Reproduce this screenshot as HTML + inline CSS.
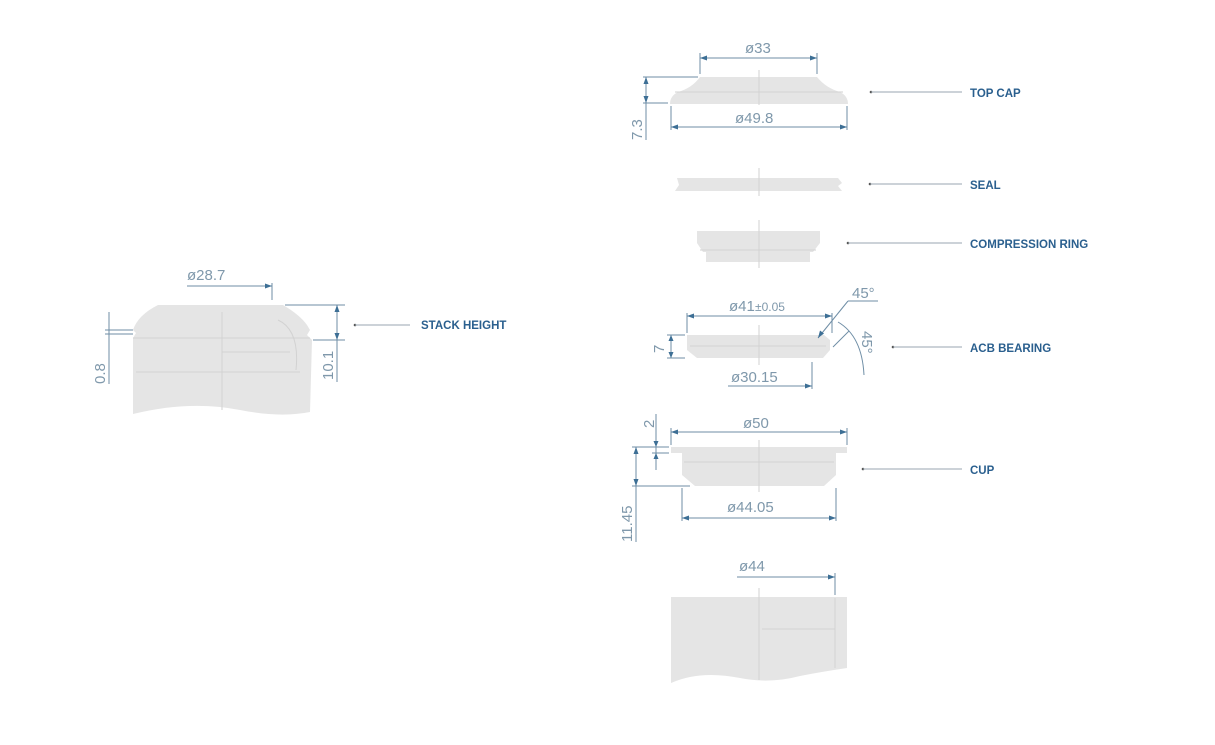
<!DOCTYPE html>
<html><head><meta charset="utf-8"><style>
html,body{margin:0;padding:0;background:#fff;}
svg{display:block;}
.s{fill:#e5e5e5;}
.d{stroke:#6f8ea6;stroke-width:1;fill:none;}
.c{stroke:#d2d2d2;stroke-width:1;fill:none;}
.t{font-family:"Liberation Sans",sans-serif;font-size:15px;fill:#7f98ab;}
.l{font-family:"Liberation Sans",sans-serif;font-size:11.5px;font-weight:bold;fill:#2a5f8e;}
.ld{stroke:#9aa6b0;stroke-width:1;}
.a{fill:#3d6f95;}
</style></head><body>
<svg width="1215" height="745" viewBox="0 0 1215 745" xmlns="http://www.w3.org/2000/svg">
<!-- STACK HEIGHT -->
<path class="s" d="M158,305 L283,305 Q300,315 307,325 L310,330 L307,335 L312,340 L310,412 Q280,418 240,410 Q190,400 133,414 L133,338 L136,333 L133,330 Q138,315 158,305Z"/>
<path class="c" d="M133,338 H310 M136,372 H300 M222,312 V410 M222,352 H290 M278,320 Q300,330 296,370"/>
<line class="d" x1="187" y1="286" x2="272" y2="286"/><line class="d" x1="272" y1="283" x2="272" y2="300"/>
<path class="a" d="M272,286 l-7,-2.5 v5z"/>
<text class="t" x="187" y="280">ø28.7</text>
<line class="d" x1="285" y1="305" x2="345" y2="305"/><line class="d" x1="313" y1="340" x2="345" y2="340"/>
<line class="d" x1="337" y1="305" x2="337" y2="382"/>
<path class="a" d="M337,305 l-2.5,7 h5z M337,340 l-2.5,-7 h5z"/>
<text class="t" transform="translate(333,380) rotate(-90)">10.1</text>
<line class="d" x1="109" y1="312" x2="109" y2="384"/><line class="d" x1="105" y1="330" x2="133" y2="330"/><line class="d" x1="105" y1="334" x2="133" y2="334"/>
<text class="t" transform="translate(105,384) rotate(-90)">0.8</text>
<circle cx="355" cy="325" r="1.3" fill="#555"/><line class="ld" x1="355" y1="325" x2="410" y2="325"/>
<text class="l" x="421" y="329">STACK HEIGHT</text>

<!-- TOP CAP -->
<path class="s" d="M700,77 L817,77 Q826,88 840,92 Q848,96 848,104 L670,104 Q670,96 678,92 Q692,88 700,77Z"/>
<path class="c" d="M759,70 V105 M675,92 H843"/>
<line class="d" x1="700" y1="58" x2="817" y2="58"/><line class="d" x1="700" y1="53" x2="700" y2="74"/><line class="d" x1="817" y1="53" x2="817" y2="74"/>
<path class="a" d="M700,58 l7,-2.5 v5z M817,58 l-7,-2.5 v5z"/>
<text class="t" x="745" y="53">ø33</text>
<line class="d" x1="671" y1="127" x2="847" y2="127"/><line class="d" x1="671" y1="106" x2="671" y2="130"/><line class="d" x1="847" y1="106" x2="847" y2="130"/>
<path class="a" d="M671,127 l7,-2.5 v5z M847,127 l-7,-2.5 v5z"/>
<text class="t" x="735" y="123">ø49.8</text>
<line class="d" x1="643" y1="77" x2="698" y2="77"/><line class="d" x1="643" y1="103" x2="668" y2="103"/>
<line class="d" x1="646" y1="77" x2="646" y2="140"/>
<path class="a" d="M646,77 l-2.5,7 h5z M646,103 l-2.5,-7 h5z"/>
<text class="t" transform="translate(642,140) rotate(-90)">7.3</text>
<circle cx="871" cy="92" r="1.3" fill="#555"/><line class="ld" x1="871" y1="92" x2="962" y2="92"/>
<text class="l" x="970" y="97">TOP CAP</text>

<!-- SEAL -->
<path class="s" d="M677,178 L838,178 L842,183 L838,186 L842,191 L675,191 L679,185Z"/>
<path class="c" d="M759,168 V196"/>
<circle cx="870" cy="184" r="1.3" fill="#555"/><line class="ld" x1="870" y1="184" x2="962" y2="184"/>
<text class="l" x="970" y="189">SEAL</text>

<!-- COMPRESSION RING -->
<path class="s" d="M697,231 H820 V243 L813,252 H810 V262 H706 V252 H703 L697,243Z"/>
<path class="c" d="M759,220 V268 M700,250 H816"/>
<circle cx="848" cy="243" r="1.3" fill="#555"/><line class="ld" x1="848" y1="243" x2="962" y2="243"/>
<text class="l" x="970" y="248">COMPRESSION RING</text>

<!-- ACB -->
<path class="s" d="M687,335 H824 L830,340 V350 L823,358 H697 L687,350Z"/>
<path class="c" d="M759,325 V365 M690,346 H826"/>
<line class="d" x1="687" y1="316" x2="832" y2="316"/><line class="d" x1="687" y1="313" x2="687" y2="333"/><line class="d" x1="832" y1="313" x2="832" y2="333"/>
<path class="a" d="M687,316 l7,-2.5 v5z M832,316 l-7,-2.5 v5z"/>
<text class="t" x="729" y="311">ø41</text><text class="t" x="755" y="311" style="font-size:12px">±0.05</text>
<line class="d" x1="848" y1="301" x2="878" y2="301"/><line class="d" x1="848" y1="301" x2="818" y2="338"/>
<path class="a" d="M818,338 l2,-7.5 l4,3z"/>
<text class="t" x="852" y="298">45°</text>
<path class="d" d="M838,322 Q862,336 864,375"/><line class="d" x1="833" y1="347" x2="849" y2="331"/>
<text class="t" transform="translate(862,331) rotate(90)">45°</text>
<line class="d" x1="667" y1="335" x2="685" y2="335"/><line class="d" x1="667" y1="358" x2="685" y2="358"/>
<line class="d" x1="671" y1="335" x2="671" y2="358"/>
<path class="a" d="M671,335 l-2.5,6 h5z M671,358 l-2.5,-6 h5z"/>
<text class="t" transform="translate(664,353) rotate(-90)">7</text>
<line class="d" x1="728" y1="386" x2="812" y2="386"/><line class="d" x1="812" y1="362" x2="812" y2="389"/>
<path class="a" d="M812,386 l-7,-2.5 v5z"/>
<text class="t" x="731" y="382">ø30.15</text>
<circle cx="893" cy="347" r="1.3" fill="#555"/><line class="ld" x1="893" y1="347" x2="962" y2="347"/>
<text class="l" x="970" y="352">ACB BEARING</text>

<!-- CUP -->
<path class="s" d="M671,447 H847 V453 H836 V475 L824,486 H695 L682,475 V453 H671Z"/>
<path class="c" d="M759,440 V492 M684,462 H834"/>
<line class="d" x1="671" y1="432" x2="847" y2="432"/><line class="d" x1="671" y1="428" x2="671" y2="445"/><line class="d" x1="847" y1="428" x2="847" y2="445"/>
<path class="a" d="M671,432 l7,-2.5 v5z M847,432 l-7,-2.5 v5z"/>
<text class="t" x="743" y="428">ø50</text>
<line class="d" x1="682" y1="518" x2="836" y2="518"/><line class="d" x1="682" y1="488" x2="682" y2="521"/><line class="d" x1="836" y1="488" x2="836" y2="521"/>
<path class="a" d="M682,518 l7,-2.5 v5z M836,518 l-7,-2.5 v5z"/>
<text class="t" x="727" y="512">ø44.05</text>
<line class="d" x1="656" y1="414" x2="656" y2="470"/><line class="d" x1="652" y1="447" x2="669" y2="447"/><line class="d" x1="652" y1="453" x2="669" y2="453"/>
<path class="a" d="M656,447 l-2.5,-6 h5z M656,453 l-2.5,6 h5z"/>
<text class="t" transform="translate(654,428) rotate(-90)">2</text>
<line class="d" x1="632" y1="447" x2="668" y2="447"/><line class="d" x1="632" y1="486" x2="690" y2="486"/>
<line class="d" x1="636" y1="447" x2="636" y2="542"/>
<path class="a" d="M636,447 l-2.5,7 h5z M636,486 l-2.5,-7 h5z"/>
<text class="t" transform="translate(632,542) rotate(-90)">11.45</text>
<circle cx="863" cy="469" r="1.3" fill="#555"/><line class="ld" x1="863" y1="469" x2="962" y2="469"/>
<text class="l" x="970" y="474">CUP</text>

<!-- TUBE -->
<path class="s" d="M671,597 H847 V668 Q820,672 800,676 Q770,684 740,678 Q700,670 671,683Z"/>
<path class="c" d="M759,588 V680 M762,629 H835 M835,598 V668"/>
<line class="d" x1="737" y1="577" x2="835" y2="577"/><line class="d" x1="835" y1="573" x2="835" y2="595"/>
<path class="a" d="M835,577 l-7,-2.5 v5z"/>
<text class="t" x="739" y="571">ø44</text>
</svg>
</body></html>
